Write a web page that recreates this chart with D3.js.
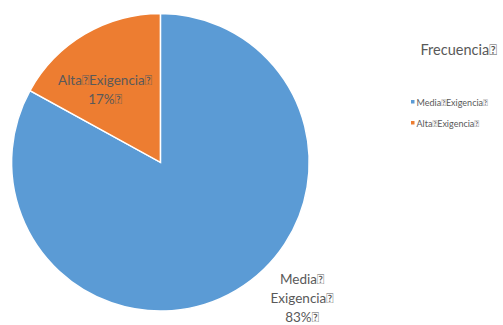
<!DOCTYPE html>
<html><head><meta charset="utf-8">
<script src="https://cdn.jsdelivr.net/npm/d3@7"></script>
<style>body{margin:0;background:#fff;} text{font-family:"Lato","Open Sans",sans-serif;}</style>
</head><body>
<svg id="c" width="503" height="325"></svg>
<script>
const T = "\uE000";
const categories = ["Media" + T + "Exigencia" + T, "Alta" + T + "Exigencia" + T];
const values = [83, 17];
const percentLabels = ["83%" + T, "17%" + T];
const colors = ["#5B9BD5", "#ED7D31"];
const title = "Frecuencia" + T;

const svg = d3.select("#c");
const cx = 160.4, cy = 162.3, r = 148.8;
const pie = d3.pie().sort(null).value(d => d)(values);
const arc = d3.arc().innerRadius(0).outerRadius(r);
const g = svg.append("g").attr("transform", `translate(${cx},${cy})`);
g.selectAll("path").data(pie).join("path")
  .attr("d", arc).attr("fill", (d, i) => colors[i])
  .attr("stroke", "#fff").attr("stroke-width", 1.5);

// labels
const lab = svg.append("g").attr("fill", "#595959").attr("font-size", 13.5).attr("text-anchor", "middle");
const la = lab.append("text").attr("y", 85);
la.append("tspan").attr("x", 105).text(categories[1]);
la.append("tspan").attr("x", 105).attr("dy", 19).text(percentLabels[1]);
const lm = lab.append("text").attr("y", 284);
lm.append("tspan").attr("x", 302).text("Media" + T);
lm.append("tspan").attr("x", 302).attr("dy", 19).text("Exigencia" + T);
lm.append("tspan").attr("x", 302).attr("dy", 19).text(percentLabels[0]);

// legend
svg.append("text").attr("x", 458.7).attr("y", 54.5).attr("text-anchor", "middle")
  .attr("font-size", 14.5).attr("fill", "#595959").text(title);
const leg = svg.append("g");
categories.forEach((c, i) => {
  const y = 106 + i * 21;
  leg.append("rect").attr("x", 411).attr("y", y - 6).attr("width", 3.5).attr("height", 3.5).attr("fill", colors[i]);
  leg.append("text").attr("x", 416.5).attr("y", y).attr("font-size", 9).attr("fill", "#595959").text(c);
});
</script>
</body></html>
